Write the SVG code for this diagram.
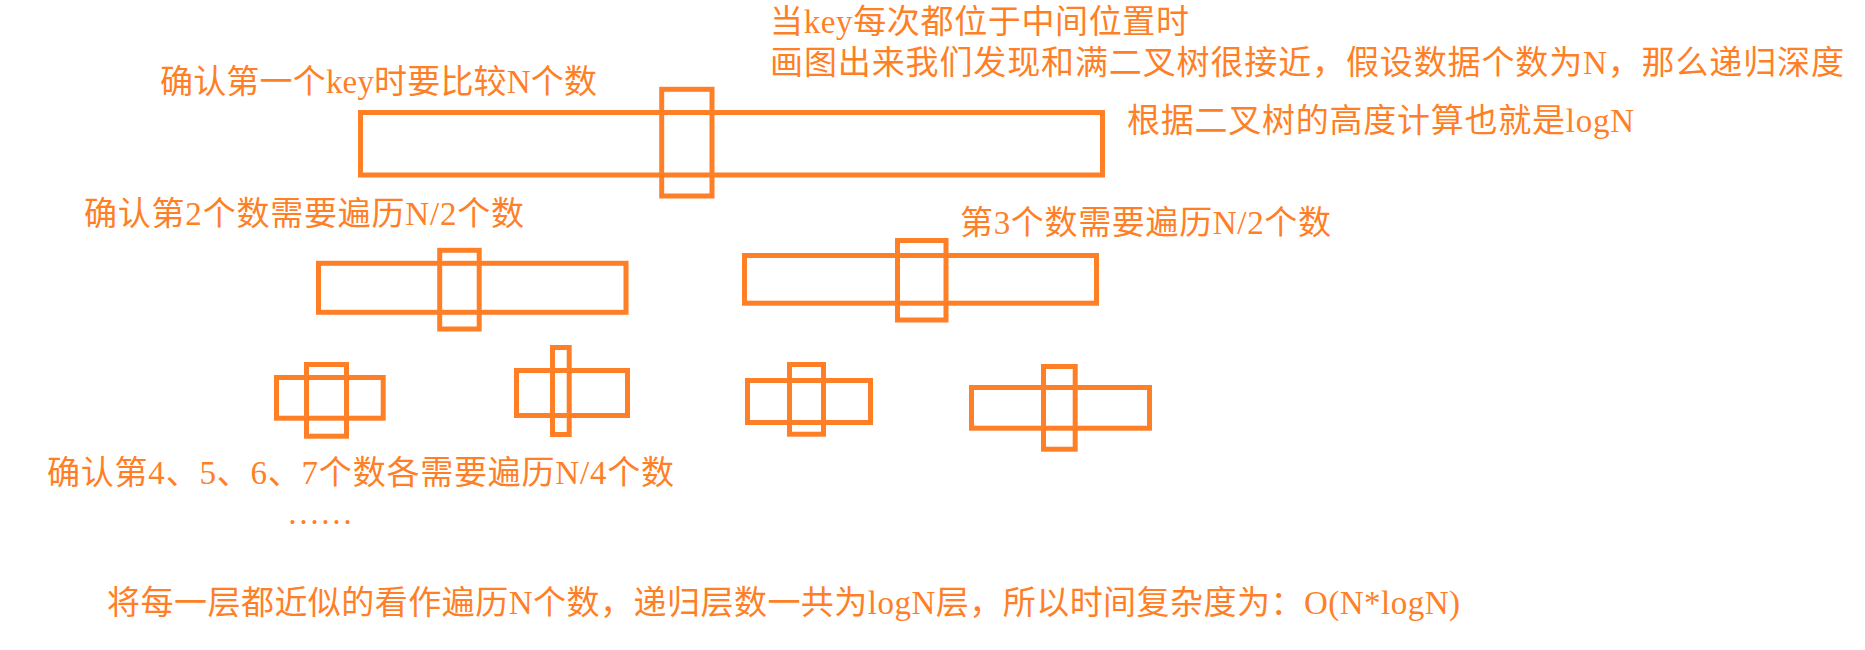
<svg xmlns="http://www.w3.org/2000/svg" width="1865" height="650" viewBox="0 0 1865 650">
<style>
.box{fill:none;stroke:#FF7F27;stroke-width:5}
.t{font-family:"Liberation Serif","Noto Sans CJK SC",serif;font-size:33px;fill:#FF7F27}
</style>
<rect width="1865" height="650" fill="#FFFFFF"/>
<g id="level1">
<rect class="box" x="360.5" y="112.5" width="742" height="62.5"/>
<rect class="box" x="661.7" y="89.3" width="50.3" height="106.7"/>
</g>
<g id="level2-left">
<rect class="box" x="318.5" y="263.3" width="307.5" height="49"/>
<rect class="box" x="439.7" y="250.3" width="39.5" height="78.7"/>
</g>
<g id="level2-right">
<rect class="box" x="744.5" y="255.5" width="352" height="47.7"/>
<rect class="box" x="897.5" y="240.5" width="48.5" height="79.5"/>
</g>
<g id="level3-a">
<rect class="box" x="276.5" y="377.5" width="106.7" height="40.7"/>
<rect class="box" x="306.5" y="364.5" width="40" height="71.7"/>
</g>
<g id="level3-b">
<rect class="box" x="516.5" y="370.5" width="111" height="45"/>
<rect class="box" x="552.5" y="347.5" width="16.7" height="87"/>
</g>
<g id="level3-c">
<rect class="box" x="747.5" y="380.5" width="123" height="42"/>
<rect class="box" x="789.5" y="364.5" width="34" height="69.7"/>
</g>
<g id="level3-d">
<rect class="box" x="971.5" y="387.5" width="178" height="40.7"/>
<rect class="box" x="1043.5" y="366.5" width="31.7" height="82.7"/>
</g>
<g id="connectors"/>
<g id="labels">
<text class="t" x="160" y="93" textLength="437" lengthAdjust="spacing">确认第一个key时要比较N个数</text>
<text class="t" x="770" y="33" textLength="419" lengthAdjust="spacing">当key每次都位于中间位置时</text>
<text class="t" x="770" y="74" textLength="1074" lengthAdjust="spacing">画图出来我们发现和满二叉树很接近，假设数据个数为N，那么递归深度</text>
<text class="t" x="1127" y="132" textLength="507" lengthAdjust="spacing">根据二叉树的高度计算也就是logN</text>
<text class="t" x="84" y="225" textLength="440" lengthAdjust="spacing">确认第2个数需要遍历N/2个数</text>
<text class="t" x="960" y="234" textLength="371" lengthAdjust="spacing">第3个数需要遍历N/2个数</text>
<text class="t" x="47" y="484" textLength="627" lengthAdjust="spacing">确认第4、5、6、7个数各需要遍历N/4个数</text>
<text x="287" y="524" style="font-family:'Liberation Serif',serif;font-size:33px;fill:#FF7F27">……</text>
<text class="t" x="107" y="614" textLength="1353" lengthAdjust="spacing">将每一层都近似的看作遍历N个数，递归层数一共为logN层，所以时间复杂度为：O(N*logN)</text>
</g>
</svg>
